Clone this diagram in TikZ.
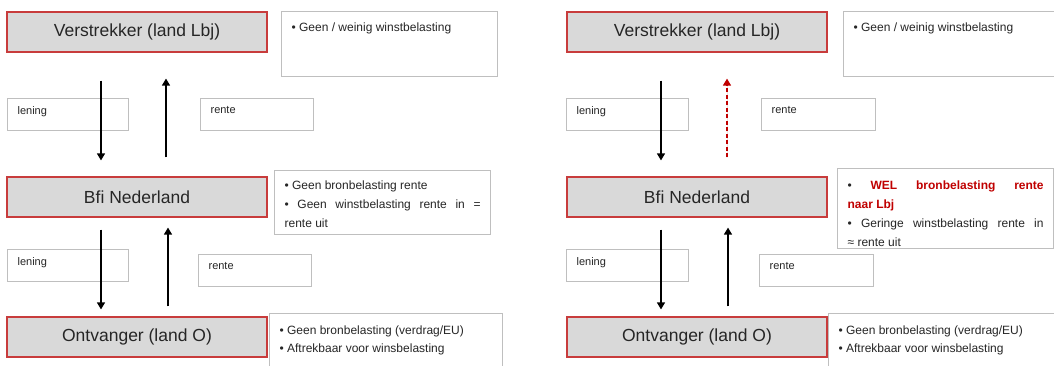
\documentclass[tikz,border=0pt]{standalone}
\usepackage{fontspec}
\setmainfont{Liberation Sans}
\usepackage{xcolor}
\usetikzlibrary{arrows.meta,positioning,calc}
\definecolor{entgray}{RGB}{217,217,217}
\definecolor{entred}{RGB}{200,60,60}
\definecolor{notegray}{RGB}{191,191,191}
\definecolor{txtcolor}{RGB}{38,38,38}
\definecolor{welred}{RGB}{192,0,0}
\newcommand{\boxtext}[3]{\parbox[c][#2pt][t]{#1pt}{#3}}

\begin{document}
\begin{tikzpicture}[
    x=1pt, y=-1pt,
    every node/.style={text=txtcolor},
    entity/.style={rectangle, draw=entred, fill=entgray, line width=1.2pt, minimum width=260, minimum height=40, inner sep=0pt, font=\fontsize{17.5}{21}\selectfont},
    note/.style={rectangle, draw=notegray, fill=white, line width=1.2pt, anchor=north west, inner xsep=10, inner ysep=10, font=\fontsize{12}{19}\selectfont},
    tag/.style={rectangle, draw=notegray, fill=white, line width=1.2pt, anchor=north west, inner xsep=10, inner ysep=8, font=\fontsize{11}{13}\selectfont},
    flow/.style={-{Triangle[length=7pt,width=8pt]}, line width=1.3pt, draw=black},
    flowwel/.style={-{Triangle[length=7pt,width=8pt]}, line width=1.3pt, draw=welred, fill=welred, dash pattern=on 4pt off 2.5pt}
]

\fill[white] (0,0) rectangle (1054,365);
\useasboundingbox (0,0) rectangle (1054,365);

% Left situation
\node[entity] (verL) at (137,32) {Verstrekker (land Lbj)};
\node[entity] (bfiL) at (137,197) {Bfi Nederland};
\node[entity] (ontL) at (137,337) {Ontvanger (land O)};

\node[note, inner ysep=11] (noteL1) at (281,11) {\boxtext{196}{43}{• Geen / weinig winstbelasting}};
\node[note] (noteL2) at (274,170) {\boxtext{196}{44}{• Geen bronbelasting rente\par
  • Geen winstbelasting rente in =\linebreak rente uit}};
\node[note, inner ysep=12] (noteL3) at (269,313) {\boxtext{213}{50}{\fontsize{12}{18}\selectfont • Geen bronbelasting (verdrag/EU)\par
  • Aftrekbaar voor winsbelasting}};

\node[tag] (lenL1) at (7,98) {\boxtext{101}{16}{lening}};
\node[tag] (renL1) at (200,98) {\boxtext{93}{16}{rente}};
\node[tag] (lenL2) at (7,249) {\boxtext{101}{16}{lening}};
\node[tag] (renL2) at (198,254) {\boxtext{93}{16}{rente}};

% Right situation
\node[entity] (verR) at (697,32) {Verstrekker (land Lbj)};
\node[entity] (bfiR) at (697,197) {Bfi Nederland};
\node[entity] (ontR) at (697,337) {Ontvanger (land O)};

\node[note, inner ysep=11] (noteR1) at (843,11) {\boxtext{200}{43}{• Geen / weinig winstbelasting}};
\node[note, inner ysep=12] (noteR2) at (837,168) {\boxtext{196}{56}{• \textcolor{welred}{\textbf{WEL bronbelasting rente}}\linebreak
  \textcolor{welred}{\textbf{naar Lbj}}\par
  • Geringe winstbelasting rente in\linebreak ≈ rente uit}};
\node[note, inner ysep=12] (noteR3) at (828,313) {\boxtext{215}{50}{\fontsize{12}{18}\selectfont • Geen bronbelasting (verdrag/EU)\par
  • Aftrekbaar voor winsbelasting}};

\node[tag] (lenR1) at (566,98) {\boxtext{102}{16}{lening}};
\node[tag] (renR1) at (761,98) {\boxtext{94}{16}{rente}};
\node[tag] (lenR2) at (566,249) {\boxtext{102}{16}{lening}};
\node[tag] (renR2) at (759,254) {\boxtext{94}{16}{rente}};

% Arrows left
\draw[flow] ([xshift=-36pt,yshift=-28pt]verL.south) -- ([xshift=-36pt,yshift=16pt]bfiL.north);
\draw[flow] ([xshift=29pt,yshift=19pt]bfiL.north) -- ([xshift=29pt,yshift=-26pt]verL.south);
\draw[flow] ([xshift=-36pt,yshift=-12pt]bfiL.south) -- ([xshift=-36pt,yshift=7pt]ontL.north);
\draw[flow] ([xshift=31pt,yshift=10pt]ontL.north) -- ([xshift=31pt,yshift=-10pt]bfiL.south);

% Arrows right
\draw[flow] ([xshift=-36pt,yshift=-28pt]verR.south) -- ([xshift=-36pt,yshift=16pt]bfiR.north);
\draw[flowwel] ([xshift=30pt,yshift=19pt]bfiR.north) -- ([xshift=30pt,yshift=-26pt]verR.south);
\draw[flow] ([xshift=-36pt,yshift=-12pt]bfiR.south) -- ([xshift=-36pt,yshift=7pt]ontR.north);
\draw[flow] ([xshift=31pt,yshift=10pt]ontR.north) -- ([xshift=31pt,yshift=-10pt]bfiR.south);

\end{tikzpicture}
\end{document}
